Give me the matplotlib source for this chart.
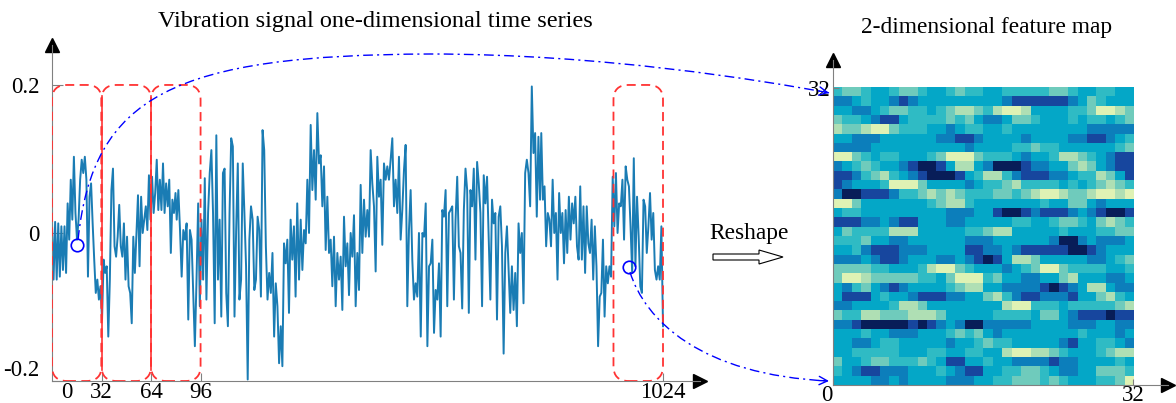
import numpy as np
import matplotlib
matplotlib.use("Agg")
import matplotlib.pyplot as plt
from matplotlib.colors import LinearSegmentedColormap
from matplotlib.patches import FancyBboxPatch, FancyArrow, PathPatch
from matplotlib.path import Path

plt.rcParams["font.family"] = ["Liberation Serif", "DejaVu Serif"]
plt.rcParams["axes.unicode_minus"] = False

# Vibration signal in five stretches (amplitude)
seg1 = [0.013, -0.063, 0.015, -0.063, 0.013, -0.059, 0.009, -0.050, 0.009, -0.054,
        0.040, -0.009, 0.072, 0.018, 0.103, 0.027, -0.009, 0.018, 0.072, 0.099,
        0.081, 0.103, 0.072, -0.059, 0.049, 0.067, 0.013, -0.036, -0.081, -0.063,
        -0.090, -0.072, -0.117, -0.036, -0.054, -0.045, -0.140, -0.063, 0.058, 0.087,
        -0.018, -0.032, -0.005, 0.038, -0.018, -0.032, 0.013, -0.063, -0.005, -0.072,
        -0.081, -0.122, -0.005, -0.054, 0.000, 0.051, -0.045, 0.049, 0.000, 0.018,
        0.036, 0.004, 0.078, 0.018, 0.076, 0.027, 0.054, 0.099, 0.031, 0.072,
        0.031, 0.094, 0.027, 0.067, 0.036, 0.072, -0.027, 0.045, 0.027, 0.054]
seg2 = [0.018, 0.058, 0.004, -0.059, 0.004, -0.009, 0.013, -0.117, 0.004, -0.009,
        -0.081, -0.153, -0.063, 0.040, -0.099, 0.018, -0.063, 0.074, -0.090, 0.027,
        0.081, 0.112, 0.027, -0.122, 0.132, -0.063, 0.018, -0.113, 0.081, 0.087,
        -0.081, -0.126, 0.027, 0.128, 0.117, -0.113, 0.004, 0.094, -0.090, -0.063,
        0.094, 0.027, -0.045, -0.198, -0.009, 0.036, 0.018, -0.077, -0.063, 0.022,
        0.004, -0.086, 0.139, 0.112, -0.018, -0.090, -0.054, -0.081, -0.027, -0.140,
        -0.068, -0.099, -0.176, -0.126, -0.180, -0.014, -0.041, -0.009, -0.108, 0.018,
        -0.036, 0.009, -0.086, 0.040]
seg3 = [-0.063, 0.018, -0.050, 0.004, -0.014, 0.072, 0.000, 0.146, 0.058, 0.112,
        0.045, 0.162, 0.094, 0.105, 0.036, 0.090, -0.023, 0.049, -0.027, -0.009,
        -0.072, -0.005, -0.099, -0.027, -0.063, -0.032, -0.104, 0.022, -0.045, -0.014,
        -0.084, 0.000, -0.032, 0.024, -0.099, -0.027, -0.077, 0.065, -0.027, 0.045,
        -0.005, 0.031, -0.005, 0.112, 0.067, 0.036, -0.052, 0.103, 0.049, 0.072,
        -0.016, 0.094, 0.072, 0.090, 0.072, 0.099, 0.128, 0.036, 0.072, 0.027,
        0.103, -0.009, 0.031, 0.085, 0.119, -0.099, 0.004, 0.058, -0.036, -0.090,
        -0.068, -0.086, 0.000]
seg4 = [-0.140, 0.000, -0.005, 0.040, -0.153, -0.045, -0.041, -0.009, -0.135, -0.077,
        -0.090, -0.041, -0.140, 0.031, 0.022, 0.058, -0.099, 0.027, 0.031, 0.036,
        -0.090, 0.018, 0.076, -0.018, -0.027, -0.102, 0.031, 0.087, 0.058, -0.108,
        0.058, 0.036, 0.087, -0.036, 0.096, 0.067, 0.027, -0.099, 0.078, 0.040,
        0.076, -0.005, -0.090, 0.045, 0.013, 0.027, -0.117, 0.022, 0.036, -0.018,
        -0.163, -0.027, 0.009, -0.050, -0.108, -0.045, -0.104, -0.054, -0.126, 0.013,
        -0.027, 0.000, -0.095, 0.081, 0.099, 0.081, 0.036, 0.198, 0.108, 0.135,
        0.022, 0.130, 0.045]
seg5 = [0.135, 0.045, 0.063, -0.018, 0.027, 0.018, -0.018, 0.072, 0.000, 0.027,
        -0.063, 0.054, 0.000, 0.027, -0.041, 0.031, -0.027, 0.049, -0.009, 0.040,
        0.013, 0.049, -0.018, -0.036, 0.063, -0.036, 0.036, -0.054, 0.036, -0.014,
        -0.027, 0.018, -0.063, 0.009, -0.045, -0.153, -0.086, -0.081, -0.009, -0.113,
        -0.045, -0.068, -0.045, -0.059, 0.076, 0.009, 0.081, 0.000, 0.040, 0.036,
        0.072, -0.009, 0.090, 0.072, 0.063, 0.009, -0.054, 0.101, -0.045, 0.049,
        -0.005, -0.072, -0.081, 0.045, 0.036, -0.027, 0.009, 0.054, -0.009, 0.027,
        -0.050, -0.063, -0.045, -0.063, 0.009, -0.126]
segments = [seg1, seg2, seg3, seg4, seg5]
seg_spans = [(0, 207), (209, 411), (414, 615), (618, 818), (820, 1024)]

# 32 x 32 feature map, top row first; digit = colour level 0 (pale) .. 8 (navy)
feature_rows = [
    "4334554334554344" "5544444334554455",
    "6654556765555555" "5567777776534555",
    "5566543344543223" "4211255554431123",
    "3445677544443435" "6653345554544543",
    "2332113444556544" "5545555555566666",
    "5566655555566776" "5555655556677654",
    "6666555555555565" "5554434455555543",
    "1134544555431113" "4445655422345677",
    "6543455678875225" "6888766553235677",
    "7764324567888754" "2246777665442357",
    "7655541113555565" "4432444454543234",
    "6887776443232344" "4334321123321121",
    "1135555555432245" "5555554553356555",
    "5445555555556665" "5788767776567887",
    "7776656775556655" "5554455433453234",
    "5344442225555544" "3225555545554433",
    "4443556655555566" "6555555688656665",
    "5546777666555577" "6656777778876555",
    "6665677655566567" "8752235555566543",
    "3333445554211345" "5565431134444554",
    "3112333334453111" "4355665532555665",
    "5643567655554322" "5566667876522566",
    "5777545567776655" "3246776667553245",
    "6655554223555555" "5521144454444432",
    "3442233322235555" "5444453356777877",
    "6678888878765688" "6666655556665566",
    "5554556665554343" "5655555555455565",
    "5566544555556554" "3445555567554456",
    "5544444555445544" "5521122345554322",
    "3554334443457755" "4556666766555545",
    "4567766655545677" "5544334566553334",
    "5555665655556665" "5443334345554431",
]
level_colors = ["#fafcc8", "#e0f3b4", "#b0e0b4", "#70ccbc", "#30bcc4",
                "#04a8c8", "#0c80bc", "#1848a0", "#081d58"]

# schematic time axis: 32-sample windows as drawn
win_starts = [0, 83, 166, 941]
win_width = 83
xtick_pos = [25, 83, 166, 249, 1024]
xtick_lab = ["0", "32", "64", "96", "1024"]
ytick_pos = [-0.2, 0, 0.2]
ytick_lab = ["-0.2", "0", "0.2"]
marked_x = [42, 967]
marked_y = [-0.016, -0.046]

W, H = 1176, 403
LINE = "#1a7cb4"
RED = "#ff3333"
GRAY = "#808080"

xs = np.concatenate([np.linspace(a, b, len(s)) for (a, b), s in zip(seg_spans, segments)])
signal = np.concatenate([np.array(s) for s in segments])
feature_map = np.array([[int(c) for c in row] for row in feature_rows])
cmap = LinearSegmentedColormap.from_list("feat", level_colors)

fig = plt.figure(figsize=(W / 100, H / 100), dpi=100)

# ---- left: 1-D signal ----
ax = fig.add_axes([52 / W, 22 / H, 648 / W, 336 / H])
ax.plot(xs, signal, color=LINE, lw=1.4, zorder=2)
ax.set_xlim(0, 1086)
ax.set_ylim(-0.2, 0.254)
for s in ["top", "right"]:
    ax.spines[s].set_visible(False)
for s in ["left", "bottom"]:
    ax.spines[s].set_color(GRAY)
ax.set_xticks(xtick_pos)
ax.set_xticklabels(xtick_lab)
ax.set_yticks(ytick_pos)
ax.set_yticklabels(ytick_lab)
ax.tick_params(axis="both", direction="in", color=GRAY, labelsize=16.5)
ax.tick_params(axis="y", length=8, pad=9)
ax.tick_params(axis="x", length=6, pad=1)
ax.get_xticklines()[0].set_visible(False)
ax.get_yticklabels()[0].set_verticalalignment("bottom")
ax.plot(1, 0, ">k", ms=10, transform=ax.transAxes, clip_on=False)
ax.plot(0, 1, "^k", ms=10, transform=ax.transAxes, clip_on=False)

# red rounded windows
for x0 in win_starts:
    box = FancyBboxPatch((x0, -0.2), win_width, 0.4,
                         boxstyle="round,pad=0,rounding_size=25",
                         mutation_aspect=0.0008, fill=False, ec=RED,
                         lw=1.3, ls=(0, (5, 3)), zorder=3)
    ax.add_patch(box)
for x0 in win_starts[1:3]:
    ax.plot([x0, x0], [-0.185, 0.185], color=RED, lw=1.2, zorder=3)
ax.plot(marked_x, marked_y, "o", mfc="none", mec="blue", ms=9, mew=1.2, zorder=4)

# ---- right: 2-D feature map ----
ax2 = fig.add_axes([833 / W, 18 / H, 335 / W, 325 / H])
ax2.imshow(feature_map, cmap=cmap, vmin=0, vmax=8, extent=(0, 32, 0, 32),
           aspect="auto", interpolation="nearest", origin="upper")
ax2.set_xlim(0, 35.73)
ax2.set_ylim(0, 35.0)
for s in ["top", "right"]:
    ax2.spines[s].set_visible(False)
for s in ["left", "bottom"]:
    ax2.spines[s].set_color(GRAY)
ax2.set_xticks([0, 32])
ax2.set_xticklabels(["0", "32"])
ax2.set_yticks([32])
ax2.set_yticklabels(["32"])
ax2.tick_params(axis="both", direction="in", color=GRAY, length=4, labelsize=16.5, pad=2)
ax2.tick_params(axis="x", pad=0)
ax2.get_xticklabels()[0].set_horizontalalignment("right")
ax2.plot(1, 0, ">k", ms=10, transform=ax2.transAxes, clip_on=False)
ax2.plot(0, 1, "^k", ms=10, transform=ax2.transAxes, clip_on=False)

fig.text(375 / W, 1 - 22 / H, "Vibration signal one-dimensional time series",
         ha="center", va="center", fontsize=17.5)
fig.text(987 / W, 1 - 27 / H, "2-dimensional feature map",
         ha="center", va="center", fontsize=16.8)

# ---- overlay in pixel units for connectors ----
ov = fig.add_axes([0, 0, 1, 1], facecolor="none", zorder=10)
ov.set_xlim(0, W)
ov.set_ylim(H, 0)
ov.set_axis_off()


def to_ov(axes, pt):
    return ov.transData.inverted().transform(axes.transData.transform(pt))


c1 = to_ov(ax, (marked_x[0], marked_y[0]))
c2 = to_ov(ax, (marked_x[1], marked_y[1]))
t1 = to_ov(ax2, (0, 32)) + np.array([-4, 5])
t2 = to_ov(ax2, (0, 0)) + np.array([-4, -4])

dashdot = (0, (7, 3, 1.5, 3))
v1 = [(c1[0] + 1, c1[1] - 5), (93, 95), (175, 55), (430, 54),
      (600, 54), (760, 80), tuple(t1)]
codes1 = [Path.MOVETO] + [Path.CURVE4] * 6
ov.add_patch(PathPatch(Path(v1, codes1), fill=False, ec="blue", lw=1.0, ls=dashdot))
v2 = [(c2[0] + 1, c2[1] + 5), (645, 320), (700, 375), tuple(t2)]
codes2 = [Path.MOVETO] + [Path.CURVE4] * 3
ov.add_patch(PathPatch(Path(v2, codes2), fill=False, ec="blue", lw=1.0, ls=dashdot))

for tip, src in [(t1, (760, 80)), (t2, (700, 375))]:
    d = np.array(tip) - np.array(src)
    d = d / np.hypot(*d)
    ov.annotate("", xy=tip, xytext=tip - 10 * d,
                arrowprops=dict(arrowstyle="->,head_length=0.6,head_width=0.3",
                                color="blue", lw=1.0, shrinkA=0, shrinkB=0))

ov.text(749, 233, "Reshape", ha="center", va="center", fontsize=16.8)
ov.add_patch(FancyArrow(713, 257, 70, 0, width=6, head_width=14, head_length=24,
                        length_includes_head=True, fc="white", ec="black", lw=0.8))

fig.savefig("out.png", dpi=100)
